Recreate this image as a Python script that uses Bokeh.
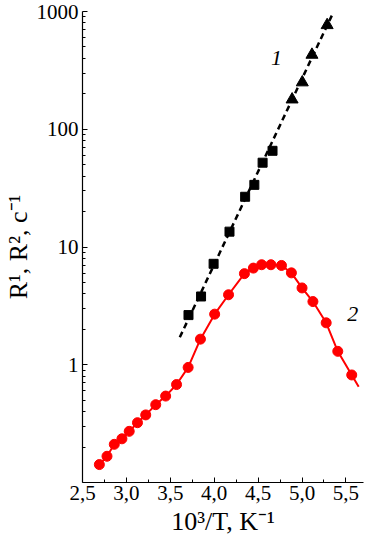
from bokeh.plotting import figure
from bokeh.models import FixedTicker, Range1d
from bokeh.core.properties import value
from bokeh.embed import file_html
from bokeh.resources import INLINE

# Series 1: squares and triangles (R^1), with dashed fit line
sq_x = [3.707, 3.85, 3.993, 4.174, 4.352, 4.457, 4.551, 4.664]
sq_y = [2.64, 3.8, 7.2, 13.5, 26.7, 33.7, 52.0, 65.6]
tri_x = [4.887, 5.003, 5.113, 5.286]
tri_y = [179, 250, 429, 766]
fit1_x = [3.608, 5.339]
fit1_y = [1.71, 923]

# Series 2: circles (R^2) with smooth line
c2_x = [2.692, 2.779, 2.862, 2.949, 3.032, 3.126, 3.22, 3.334, 3.447, 3.571,
        3.703, 3.843, 4.005, 4.163, 4.344, 4.446, 4.54, 4.646, 4.766, 4.879,
        5.0, 5.124, 5.275, 5.407, 5.566]
c2_y = [0.142, 0.167, 0.211, 0.235, 0.272, 0.322, 0.375, 0.458, 0.542, 0.679,
        0.949, 1.65, 2.69, 3.93, 5.94, 6.62, 7.07, 7.07, 6.97, 6.03,
        4.49, 3.44, 2.27, 1.3, 0.819]
curve2_x = [2.655] + c2_x + [5.645]
curve2_y = [0.132] + c2_y + [0.649]

x_ticks = [2.5, 3.0, 3.5, 4.0, 4.5, 5.0, 5.5]
x_tick_labels = ["2,5", "3,0", "3,5", "4,0", "4,5", "5,0", "5,5"]
x_minor = [2.75, 3.25, 3.75, 4.25, 4.75, 5.25]
y_ticks = [1, 10, 100, 1000]
y_tick_labels = ["1", "10", "100", "1000"]
y_minor = [m * 10.0 ** e for e in (-1, 0, 1, 2) for m in range(2, 10)]

labels_x = [4.709, 5.577]
labels_y = [406, 2.72]
labels_t = ["1", "2"]

x_title = "10³/T, K⁻¹"
y_title = "R¹, R², c⁻¹"

p = figure(width=371, height=542, y_axis_type="log",
           x_range=Range1d(2.5, 5.7), y_range=Range1d(0.1, 1000),
           output_backend="svg", toolbar_location=None,
           min_border_left=81, min_border_right=8, min_border_top=11,
           min_border_bottom=60)
p.outline_line_color = None
p.xgrid.grid_line_color = None
p.ygrid.grid_line_color = None

p.line(fit1_x, fit1_y, line_color="black", line_width=2.5, line_dash="6 4")
p.scatter(sq_x, sq_y, marker="square", size=9, color="black")
p.scatter(tri_x, tri_y, marker="triangle", size=12, color="black")

p.line(curve2_x, curve2_y, line_color="#ff0000", line_width=2)
p.scatter(c2_x, c2_y, marker="circle", size=10, color="#ff0000")

p.text(labels_x, labels_y, text=labels_t, text_font=value("Liberation Serif"),
       text_font_style="italic", text_font_size="22px", text_align="center",
       text_baseline="middle", text_color="black")

FONT = "Liberation Serif"
for ax in (p.xaxis[0], p.yaxis[0]):
    ax.major_tick_in = 5
    ax.major_tick_out = 0
    ax.minor_tick_in = 3
    ax.minor_tick_out = 0
    ax.axis_line_color = "black"
    ax.axis_line_width = 1.2
    ax.major_tick_line_color = "black"
    ax.minor_tick_line_color = "black"
    ax.major_label_text_font = FONT
    ax.major_label_text_font_size = "21px"
    ax.major_label_text_color = "black"
    ax.axis_label_text_font = FONT
    ax.axis_label_text_font_size = "26px"
    ax.axis_label_text_font_style = "normal"
    ax.axis_label_text_color = "black"

p.xaxis[0].ticker = FixedTicker(ticks=x_ticks, minor_ticks=x_minor)
p.xaxis[0].major_label_overrides = dict(zip(x_ticks, x_tick_labels))
p.xaxis[0].axis_label = x_title
p.xaxis[0].major_label_standoff = 3
p.xaxis[0].axis_label_standoff = 4

p.yaxis[0].ticker = FixedTicker(ticks=y_ticks, minor_ticks=y_minor)
p.yaxis[0].major_label_overrides = dict(zip(y_ticks, y_tick_labels))
p.yaxis[0].axis_label = y_title
p.yaxis[0].major_label_standoff = 4
p.yaxis[0].axis_label_standoff = 1

open("out.html", "w").write(file_html(p, INLINE))
